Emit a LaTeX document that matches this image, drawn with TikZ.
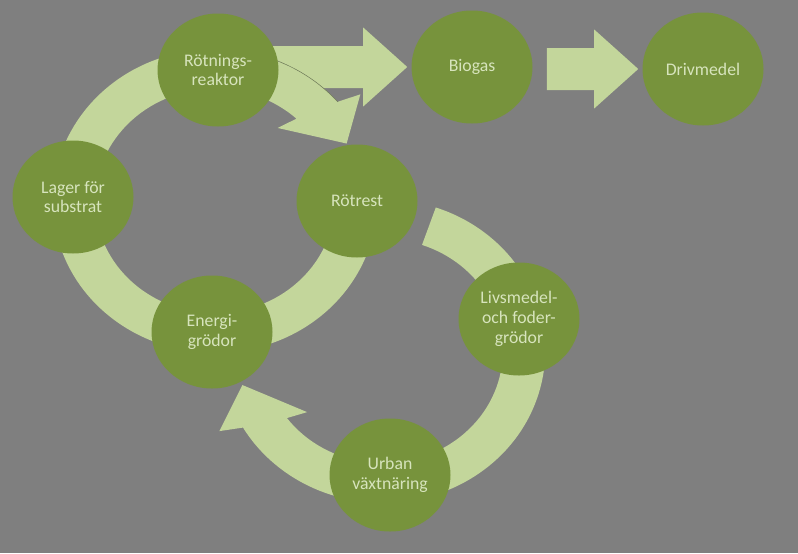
\documentclass[tikz,border=0pt]{standalone}
\usepackage{fontspec}
\setmainfont{Carlito}
\usetikzlibrary{shapes.geometric,calc}

\definecolor{bggray}{RGB}{127,127,127}
\definecolor{stagegreen}{RGB}{119,147,60}
\definecolor{palegreen}{RGB}{195,214,155}
\definecolor{labelgreen}{RGB}{215,228,189}
\definecolor{ringedge}{RGB}{110,122,88}

\pgfdeclarelayer{bg}
\pgfdeclarelayer{arrows}
\pgfsetlayers{bg,arrows,main}

% curved ring arrow in ring units: tail angle #1, outer neck angle #2 (runs clockwise)
\newcommand{\ringarrow}[2]{%
  \fill[palegreen]
    (#1:0.85) -- (#1:1.15) arc[start angle=#1, end angle=#2, radius=1.15]
    -- ({#2-2.7}:1.31) -- ({#2-15.8}:1.03) -- ({#2+10.4}:0.71)
    -- ({#2+6.4}:0.85) arc[start angle={#2+6.4}, end angle=#1, radius=0.85] -- cycle;}

% straight block arrow from #1 to tip #2
\newcommand{\blockarrow}[2]{%
  \fill[palegreen] let \p1=(#1), \p2=(#2) in
    (\x1,\y2+15.75pt) -- (\x2-33pt,\y2+15.75pt) -- (\x2-33pt,\y2+29.6pt) -- (\p2)
    -- (\x2-33pt,\y2-29.6pt) -- (\x2-33pt,\y2-15.75pt) -- (\x1,\y2-15.75pt) -- cycle;}

\begin{document}
\begin{tikzpicture}[x=0.75pt,y=-0.75pt,
  stage/.style={ellipse,fill=stagegreen,minimum width=90.75pt,minimum height=84.75pt,
    inner sep=0pt,align=center,text=labelgreen,font=\fontsize{13.3}{14.8}\selectfont}]

  % stages
  \node[stage] (reaktor) at (218,70) {Rötnings-\\reaktor};
  \node[stage] (biogas) at (472,67) {Biogas};
  \node[stage] (drivmedel) at (703,69) {Drivmedel};
  \node[stage] (lager) at (73,197) {Lager för\\substrat};
  \node[stage] (rotrest) at (357,201) {Rötrest};
  \node[stage] (energi) at (212,332) {Energi-\\grödor};
  \node[stage] (livsmedel) at (519,319) {Livsmedel-\\och foder-\\grödor};
  \node[stage] (urban) at (390,475) {Urban\\växtnäring};

  \begin{pgfonlayer}{bg}
    \fill[bggray] (0,0) rectangle (798,553);
  \end{pgfonlayer}

  \begin{pgfonlayer}{arrows}
    \blockarrow{reaktor.center}{$(biogas.west)+(-4,0)$}
    \blockarrow{$(biogas.east)+(14,0)$}{$(drivmedel.west)+(-4,0)$}
    % left cycle
    \begin{scope}[shift={(215,201)},x=105.75pt,y=99pt]
      \ringarrow{15}{-319.2}
      \draw[ringedge,line width=0.4pt] (70:1.15) arc[start angle=70,end angle=40.8,radius=1.15];
    \end{scope}
    % right cycle
    \begin{scope}[shift={(383,351)},x=105.75pt,y=99pt]
      \ringarrow{71}{-149.7}
    \end{scope}
  \end{pgfonlayer}
\end{tikzpicture}
\end{document}
